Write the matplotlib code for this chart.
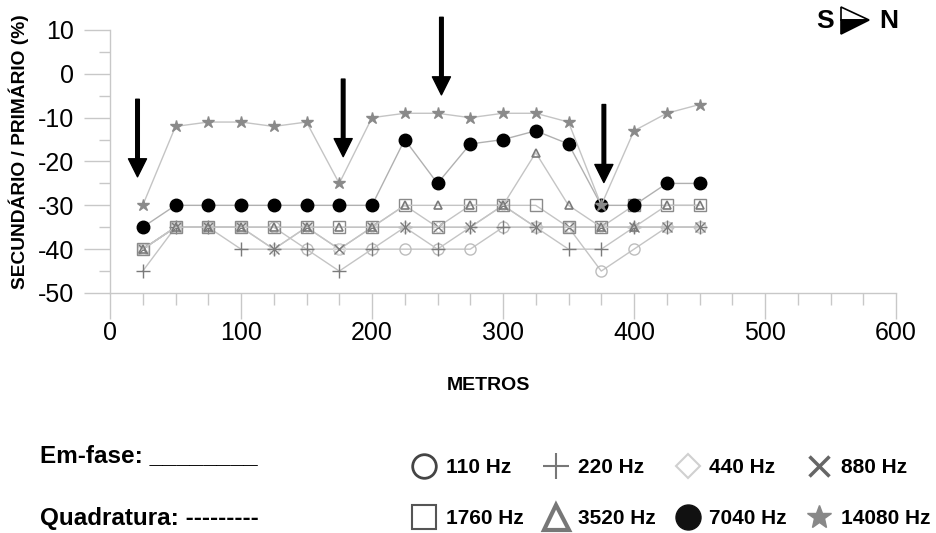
import matplotlib
matplotlib.use("Agg")
import matplotlib.pyplot as plt
from matplotlib.lines import Line2D
from matplotlib.patches import Polygon
from matplotlib.ticker import MultipleLocator

plt.rcParams['font.family'] = ['Liberation Sans', 'DejaVu Sans']
plt.rcParams['axes.unicode_minus'] = False

# distancia ao longo do perfil (m)
metros = [25, 50, 75, 100, 125, 150, 175, 200, 225, 250, 275, 300, 325, 350, 375, 400, 425, 450]

# razao secundario / primario (%) por frequencia
f110 = [-40, -35, -35, -35, -35, -40, -40, -40, -40, -40, -40, -35, -35, -35, -45, -40, -35, -35]
f220 = [-45, -35, -35, -40, -40, -40, -45, -40, -35, -40, -35, -35, -35, -40, -40, -35, -35, -35]
f440 = [-40, -35, -35, -35, -40, -35, -40, -35, -35, -35, -35, -30, -35, -35, -35, -35, -35, -35]
f880 = [-40, -35, -35, -35, -40, -35, -40, -35, -35, -35, -35, -30, -35, -35, -35, -35, -35, -35]
f1760 = [-40, -35, -35, -35, -35, -35, -35, -35, -30, -35, -30, -30, -30, -35, -35, -30, -30, -30]
f3520 = [-40, -35, -35, -35, -35, -35, -35, -35, -30, -30, -30, -30, -18, -30, -35, -35, -30, -30]
f7040 = [-35, -30, -30, -30, -30, -30, -30, -30, -15, -25, -16, -15, -13, -16, -30, -30, -25, -25]
f14080 = [-30, -12, -11, -11, -12, -11, -25, -10, -9, -9, -10, -9, -9, -11, -30, -13, -9, -7]

# setas (posicao, inicio, ponta)
seta_x = [21, 178, 253, 377]
seta_topo = [-5.8, -1.2, 12.9, -7.0]
seta_ponta = [-23.5, -18.9, -4.8, -24.8]

fig = plt.figure(figsize=(9.36, 5.33), dpi=100)
ax = fig.add_axes([110/936, 1-293/533, (896-110)/936, (293-30)/533])

cl = '#c4c4c4'
ax.plot(metros, f110, color=cl, lw=1, marker='o', ms=8, mfc='none', mec='#bdbdbd', mew=1)
ax.plot(metros, f440, color=cl, lw=1, marker='D', ms=6, mfc='none', mec='#dddddd', mew=1)
ax.plot(metros, f220, color=cl, lw=1, marker='+', ms=10, mec='#7a7a7a', mew=1)
ax.plot(metros, f880, color=cl, lw=1, marker='x', ms=7, mec='#7a7a7a', mew=1)
ax.plot(metros, f1760, color=cl, lw=1, marker='s', ms=8, mfc='none', mec='#8a8a8a', mew=1)
ax.plot(metros, f3520, color=cl, lw=1, marker='^', ms=6, mfc='none', mec='#7a7a7a', mew=1.2)
ax.plot(metros, f7040, color='#b0b0b0', lw=1, marker='o', ms=9, mfc='black', mec='black')
ax.plot(metros, f14080, color=cl, lw=1, marker='*', ms=9, mfc='#8a8a8a', mec='#8a8a8a')

for x, y0, y1 in zip(seta_x, seta_topo, seta_ponta):
    ax.annotate('', xy=(x, y1), xytext=(x, y0), annotation_clip=False,
                arrowprops=dict(width=2.6, headwidth=13, headlength=13, shrink=0,
                                facecolor='black', edgecolor='black'))

ax.set_xlim(0, 600)
ax.set_ylim(-50, 10)
ax.xaxis.set_major_locator(MultipleLocator(100))
ax.xaxis.set_minor_locator(MultipleLocator(25))
ax.yaxis.set_major_locator(MultipleLocator(10))
ax.yaxis.set_minor_locator(MultipleLocator(5))
for s in ['top', 'right']:
    ax.spines[s].set_visible(False)
for s in ['left', 'bottom']:
    ax.spines[s].set_color('#c8c8c8')
    ax.spines[s].set_linewidth(1)
ax.tick_params(axis='x', which='major', length=19, width=1, color='#c8c8c8', pad=1, labelsize=18)
ax.tick_params(axis='x', which='minor', length=8.5, width=1, color='#c8c8c8')
ax.tick_params(axis='y', which='major', length=19, width=1, color='#c8c8c8', pad=7, labelsize=18)
ax.tick_params(axis='y', which='minor', length=8, width=1, color='#c8c8c8')

fig.text(19/936, 1-152/533, 'SECUNDÁRIO / PRIMÁRIO (%)', rotation=90, ha='center', va='center',
         fontsize=13.75, fontweight='bold')
fig.text(488/936, 1-386/533, 'METROS', ha='center', va='center', fontsize=14, fontweight='bold')

# S -> N
fig.text(825/936, 1-21/533, 'S', ha='center', va='center', fontsize=19, fontweight='bold')
fig.text(889/936, 1-21/533, 'N', ha='center', va='center', fontsize=19, fontweight='bold')
fig.patches.append(Polygon([(841/936, 1-7/533), (869/936, 1-20/533), (841/936, 1-20/533)],
                           closed=True, transform=fig.transFigure, fc='white', ec='black', lw=1.2))
fig.patches.append(Polygon([(841/936, 1-20/533), (869/936, 1-20/533), (841/936, 1-34/533)],
                           closed=True, transform=fig.transFigure, fc='black', ec='black', lw=1.2))

fig.text(40/936, 1-462/533, 'Em-fase: ________', ha='left', va='baseline', fontsize=17.5, fontweight='bold')
fig.text(40/936, 1-525/533, 'Quadratura: ---------', ha='left', va='baseline', fontsize=17.5, fontweight='bold')

handles = [
    Line2D([], [], ls='none', marker='o', ms=17, mfc='none', mec='#444444', mew=2),
    Line2D([], [], ls='none', marker='s', ms=17, mfc='none', mec='#555555', mew=1.5),
    Line2D([], [], ls='none', marker='+', ms=19, mec='#777777', mew=1.5),
    Line2D([], [], ls='none', marker='^', ms=18, mfc='none', mec='#777777', mew=3),
    Line2D([], [], ls='none', marker='D', ms=12, mfc='none', mec='#d0d0d0', mew=1.5),
    Line2D([], [], ls='none', marker='o', ms=18, mfc='#111111', mec='#111111'),
    Line2D([], [], ls='none', marker='x', ms=14, mec='#666666', mew=2.5),
    Line2D([], [], ls='none', marker='*', ms=18, mfc='#888888', mec='#888888'),
]
labels = ['110 Hz', '1760 Hz', '220 Hz', '3520 Hz', '440 Hz', '7040 Hz', '880 Hz', '14080 Hz']
fig.legend(handles, labels, ncol=4, loc='center', bbox_to_anchor=(671/936, 1-493/533),
           frameon=False, prop={'weight': 'bold', 'size': 15}, handlelength=1.2,
           handletextpad=0.45, columnspacing=0.95, labelspacing=1.55, borderpad=0)

fig.savefig('out.png', dpi=100)
